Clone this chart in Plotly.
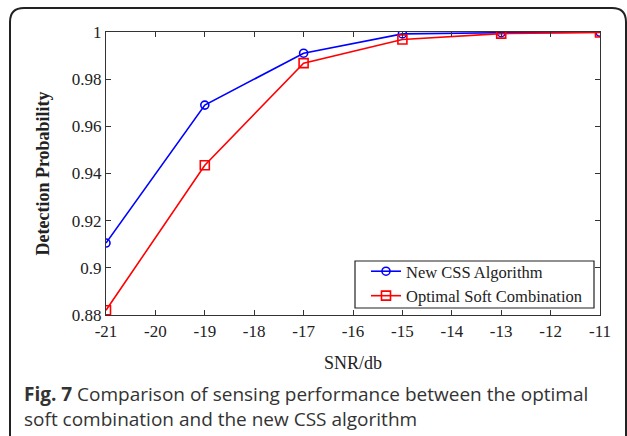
import plotly.graph_objects as go

snr = [-21, -19, -17, -15, -13, -11]
new_css = [0.9105, 0.969, 0.991, 0.9992, 0.9997, 0.9999]
optimal_soft = [0.882, 0.9435, 0.9868, 0.9968, 0.9993, 0.9998]

x_ticks = [-21, -20, -19, -18, -17, -16, -15, -14, -13, -12, -11]
x_tick_text = ["-21", "-20", "-19", "-18", "-17", "-16", "-15", "-14", "-13", "-12", "-11"]
y_ticks = [0.88, 0.9, 0.92, 0.94, 0.96, 0.98, 1.0]
y_tick_text = ["0.88", "0.9", "0.92", "0.94", "0.96", "0.98", "1"]

W, H = 627, 436
L, R, T, B = 106, 600, 32, 315


def px(x):
    return (x - L) / (R - L)


def py(y):
    return (B - y) / (B - T)


serif = "Liberation Serif, Times New Roman, serif"

fig = go.Figure()
fig.add_trace(go.Scatter(
    x=snr, y=new_css, name="New CSS Algorithm", mode="lines+markers",
    line=dict(color="#0000ff", width=1.6),
    marker=dict(symbol="circle-open", size=8, color="#0000ff", line=dict(width=1.6)),
))
fig.add_trace(go.Scatter(
    x=snr, y=optimal_soft, name="Optimal Soft Combination", mode="lines+markers",
    line=dict(color="#ff0000", width=1.6),
    marker=dict(symbol="square-open", size=9, color="#ff0000", line=dict(width=1.6)),
))

axis_common = dict(
    showline=True, mirror="ticks", linecolor="#333", linewidth=1.2,
    ticks="inside", ticklen=5, tickcolor="#333", showgrid=False, zeroline=False,
    tickfont=dict(family=serif, size=17, color="#222"),
)
fig.update_xaxes(range=[-21, -11], tickvals=x_ticks, ticktext=x_tick_text, **axis_common,
                 title=dict(text="SNR/db", font=dict(family=serif, size=18, color="#222"), standoff=16))
fig.update_yaxes(range=[0.88, 1.0], tickvals=y_ticks, ticktext=y_tick_text, **axis_common,
                 title=dict(text="<b>Detection Probability</b>", font=dict(family=serif, size=18, color="#222"), standoff=17))

# rounded frame
r = 14
x0, y0, x1 = 10, 8, 626
path = (f"M {px(x0)} {py(H + 5)} L {px(x0)} {py(y0 + r)} "
        f"Q {px(x0)} {py(y0)} {px(x0 + r)} {py(y0)} "
        f"L {px(x1 - r)} {py(y0)} Q {px(x1)} {py(y0)} {px(x1)} {py(y0 + r)} "
        f"L {px(x1)} {py(H + 5)}")
fig.add_shape(type="path", path=path, xref="paper", yref="paper",
              line=dict(color="#222", width=2))

# legend frame
fig.add_shape(type="rect", xref="paper", yref="paper",
              x0=px(355), x1=px(594), y0=py(308), y1=py(261),
              line=dict(color="#222", width=1.2), fillcolor="white", layer="above")

cap_font = dict(family="Open Sans, sans-serif", size=19, color="#333")
fig.add_annotation(x=px(22), y=py(394), xref="paper", yref="paper", xanchor="left", yanchor="middle",
                   text="<b>Fig. 7</b> Comparison of sensing performance between the optimal",
                   showarrow=False, font=cap_font)
fig.add_annotation(x=px(22), y=py(419), xref="paper", yref="paper", xanchor="left", yanchor="middle",
                   text="soft combination and the new CSS algorithm",
                   showarrow=False, font=cap_font)

fig.update_layout(
    width=W, height=H,
    margin=dict(l=L, r=W - R, t=T, b=H - B),
    paper_bgcolor="white", plot_bgcolor="white",
    showlegend=True,
    legend=dict(x=px(366), y=py(254), xanchor="left", yanchor="top",
                borderwidth=0, bgcolor="rgba(0,0,0,0)",
                font=dict(family=serif, size=16.5, color="#222"),
                itemwidth=30, tracegroupgap=0),
)

fig.write_html("out.html", config={"displayModeBar": False},
               post_script="document.body.style.margin='0';")
